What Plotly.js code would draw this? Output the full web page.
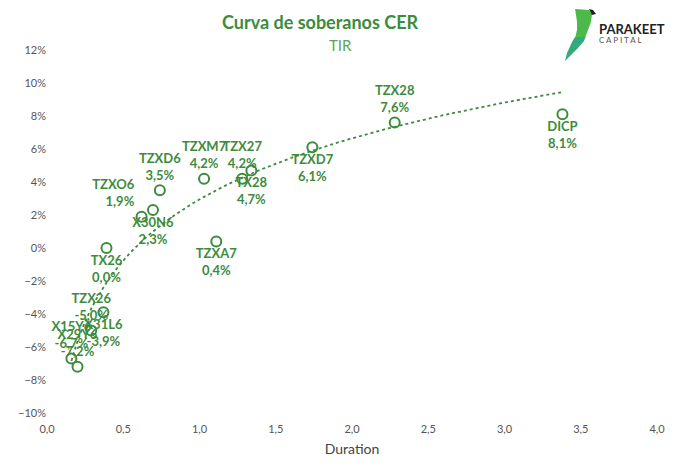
<!DOCTYPE html>
<html>
<head>
<meta charset="utf-8">
<script src="https://cdn.plot.ly/plotly-3.0.1.min.js"></script>
<style>
  html, body { margin: 0; padding: 0; background: #fff; }
  #chart { width: 680px; height: 473px; }
</style>
</head>
<body>
<div id="chart"></div>
<script>
// bonos CER: duration y TIR (%)
const bonos    = ['DICP', 'TZX28', 'TZXD7', 'TX28', 'TZX27', 'TZXM7', 'TZXA7', 'TZXD6', 'X30N6', 'TZXO6', 'TX26', 'X31L6', 'TZX26', 'X15Y6', 'X29Y6'];
const duration = [3.38, 2.28, 1.74, 1.34, 1.28, 1.03, 1.11, 0.74, 0.695, 0.62, 0.39, 0.37, 0.29, 0.16, 0.20];
const tir      = [8.1, 7.6, 6.1, 4.7, 4.2, 4.2, 0.4, 3.5, 2.3, 1.9, 0.0, -3.9, -5.0, -6.7, -7.2];
const posicion = ['bottom center', 'top center', 'bottom center', 'bottom center', 'top center', 'top center',
                  'bottom center', 'top center', 'bottom center', 'top left', 'bottom center', 'bottom center',
                  'top center', 'top center', 'top center'];

const verde = '#3d8b3d';

// tendencia logaritmica (minimos cuadrados sobre ln(duration))
const lx = duration.map(d => Math.log(d));
const mx = lx.reduce((a, b) => a + b, 0) / lx.length;
const my = tir.reduce((a, b) => a + b, 0) / tir.length;
let sxy = 0, sxx = 0;
lx.forEach((l, i) => { sxy += (l - mx) * (tir[i] - my); sxx += (l - mx) * (l - mx); });
const pendiente = sxy / sxx;
const ordenada = my - pendiente * mx;
const xmin = Math.min(...duration), xmax = Math.max(...duration);
const trendX = [], trendY = [];
for (let i = 0; i <= 80; i++) {
    const x = xmin + (xmax - xmin) * i / 80;
    trendX.push(x);
    trendY.push(ordenada + pendiente * Math.log(x));
}

const etiquetas = bonos.map((b, i) => b + '<br>' + tir[i].toFixed(1).replace('.', ',') + '%');

const tendencia = {
    x: trendX, y: trendY,
    type: 'scatter', mode: 'lines',
    line: { color: verde, width: 1.8, dash: 'dot' },
    hoverinfo: 'skip'
};

const puntos = {
    x: duration, y: tir,
    type: 'scatter', mode: 'markers+text',
    text: etiquetas,
    textposition: posicion,
    textfont: { family: 'Lato, sans-serif', size: 13, color: verde, weight: 'bold' },
    marker: { symbol: 'circle-open', size: 10, color: verde, line: { width: 2, color: verde } },
    cliponaxis: false
};

// pasar pixeles de la imagen a coordenadas paper
const L = 47, R = 657, T = 50, B = 413;
const px = x => (x - L) / (R - L);
const py = y => (B - y) / (B - T);
const camino = pts => 'M ' + pts.map(p => px(p[0]).toFixed(4) + ',' + py(p[1]).toFixed(4)).join(' L ') + ' Z';

const loro = [
    {   // cabeza y pecho
        type: 'path', xref: 'paper', yref: 'paper',
        path: camino([[575, 9], [589, 10], [592, 14], [591, 22], [588, 30], [585, 38], [575, 38], [577, 30], [577, 22], [576, 15]]),
        fillcolor: '#4cba4a', line: { width: 0 }, layer: 'above'
    },
    {   // ala y cola
        type: 'path', xref: 'paper', yref: 'paper',
        path: camino([[585.5, 37], [584, 41], [578, 48], [571, 55], [565, 61], [567, 53], [572, 42], [575, 37]]),
        fillcolor: '#33aa7c', line: { width: 0 }, layer: 'above'
    },
    {   // pico
        type: 'path', xref: 'paper', yref: 'paper',
        path: camino([[589, 9], [593, 10], [596, 14], [592, 15]]),
        fillcolor: '#222', line: { width: 0 }, layer: 'above'
    }
];

const layout = {
    width: 680, height: 473,
    margin: { l: L, r: 680 - R, t: T, b: 473 - B },
    paper_bgcolor: '#fff', plot_bgcolor: '#fff',
    separators: ',.',
    showlegend: false,
    font: { family: 'Lato, sans-serif', color: '#555' },
    xaxis: {
        range: [0, 4], dtick: 0.5, tickformat: '.1f',
        showgrid: false, zeroline: false, showline: false,
        ticks: '', ticklen: 0, ticklabelstandoff: 8,
        tickfont: { size: 11, color: '#555' },
        title: { text: 'Duration', font: { size: 14, color: '#444' }, standoff: 10 }
    },
    yaxis: {
        range: [-10, 12], dtick: 2, ticksuffix: '%',
        showgrid: false, zeroline: false, showline: false,
        ticks: '', tickfont: { size: 11, color: '#555' }
    },
    shapes: loro,
    annotations: [
        { text: '<b>Curva de soberanos CER</b>', xref: 'paper', yref: 'paper', x: px(320), y: py(22),
          xanchor: 'center', yanchor: 'middle', showarrow: false, font: { size: 18, color: '#3b8c3b' } },
        { text: 'TIR', xref: 'paper', yref: 'paper', x: px(340), y: py(45),
          xanchor: 'center', yanchor: 'middle', showarrow: false, font: { size: 15, color: '#5aa55a' } },
        { text: '<b>PARAKEET</b>', xref: 'paper', yref: 'paper', x: px(597), y: py(29),
          xanchor: 'left', yanchor: 'middle', showarrow: false, font: { size: 13, color: '#222' } },
        { text: 'C A P I T A L', xref: 'paper', yref: 'paper', x: px(597), y: py(40),
          xanchor: 'left', yanchor: 'middle', showarrow: false, font: { size: 8, color: '#555' } }
    ]
};

Plotly.newPlot('chart', [tendencia, puntos], layout, { displayModeBar: false, staticPlot: true });
</script>
</body>
</html>
